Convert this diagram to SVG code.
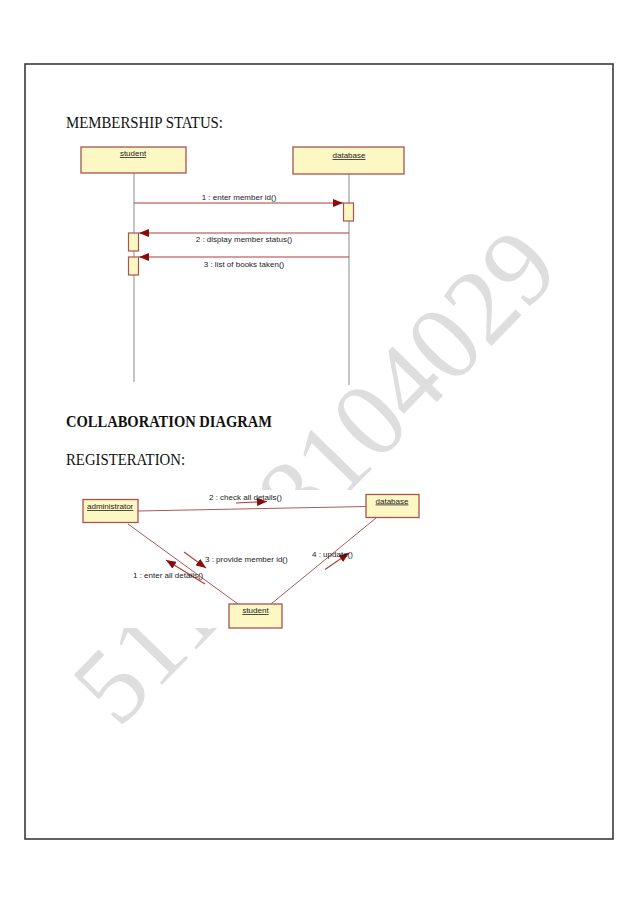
<svg xmlns="http://www.w3.org/2000/svg" width="638" height="903" viewBox="0 0 638 903">
  <style>
    .head { font-family: "Liberation Serif", "Times New Roman", serif; font-size: 16px; fill: #111; }
    .box { fill: #fdf7c4; stroke: #a5554f; stroke-width: 1.3; }
    .lbl { font-family: "Liberation Sans", Arial, sans-serif; font-size: 8px; fill: #222; text-decoration: underline; }
    .msg { font-family: "Liberation Sans", Arial, sans-serif; font-size: 8px; fill: #222; }
    .life { stroke: #8a8a8a; stroke-width: 1; fill: none; }
    .call { stroke: #b03a3a; stroke-width: 1.1; fill: none; }
    .link { stroke: #a85a5a; stroke-width: 1; fill: none; }
    .act { fill: #fdf7c4; stroke: #a5554f; stroke-width: 1.2; }
    .wm { font-family: "Liberation Serif", "Times New Roman", serif; font-size: 107px; fill: #dedede; }
  </style>
  <defs>
    <marker id="ah" markerWidth="10" markerHeight="8" refX="10" refY="4" orient="auto" markerUnits="userSpaceOnUse">
      <path d="M0,0 L10,4 L0,8 Z" fill="#8b0a0a"/>
    </marker>
  </defs>
  <rect width="638" height="903" fill="#ffffff"/>

  <!-- watermark -->
  <text class="wm" x="118" y="730" transform="rotate(-45.8 118 730)">511318104029</text>
  <!-- white background of collaboration picture -->
  <rect x="60" y="490" width="372" height="138" fill="#ffffff"/>

  <!-- page frame -->
  <rect x="25" y="64" width="588" height="775" fill="none" stroke="#3a3a3a" stroke-width="1.6"/>

  <text class="head" x="66" y="128" textLength="157" lengthAdjust="spacingAndGlyphs">MEMBERSHIP STATUS:</text>
  <text class="head" x="66" y="427" font-weight="bold" textLength="206" lengthAdjust="spacingAndGlyphs">COLLABORATION DIAGRAM</text>
  <text class="head" x="66" y="465" textLength="119" lengthAdjust="spacingAndGlyphs">REGISTERATION:</text>

  <!-- sequence diagram -->
  <g id="seq-connectors">
    <line class="life" x1="134" y1="173" x2="134" y2="382"/>
    <line class="life" x1="349" y1="174" x2="349" y2="385"/>
    <line class="call" x1="134" y1="203" x2="343" y2="203" marker-end="url(#ah)"/>
    <line class="call" x1="349" y1="233" x2="139" y2="233" marker-end="url(#ah)"/>
    <line class="call" x1="349" y1="257" x2="139" y2="257" marker-end="url(#ah)"/>
    <text class="msg" x="239" y="200" text-anchor="middle">1 : enter member id()</text>
    <text class="msg" x="244" y="242" text-anchor="middle">2 : display member status()</text>
    <text class="msg" x="244" y="267" text-anchor="middle">3 : list of books taken()</text>
  </g>
  <g id="seq-student">
    <rect class="box" x="81" y="147" width="105" height="26"/>
    <text class="lbl" x="133" y="156" text-anchor="middle">student</text>
    <rect class="act" x="128.5" y="233" width="10" height="18"/>
    <rect class="act" x="128.5" y="257" width="10" height="18"/>
  </g>
  <g id="seq-database">
    <rect class="box" x="293" y="147" width="111" height="27"/>
    <text class="lbl" x="349" y="158" text-anchor="middle">database</text>
    <rect class="act" x="343.5" y="203" width="10" height="18"/>
  </g>

  <!-- collaboration diagram -->
  <g id="collab-connectors">
    <line class="link" x1="138" y1="511" x2="366" y2="506.5"/>
    <line class="link" x1="128" y1="524" x2="238" y2="604"/>
    <line class="link" x1="376" y1="518" x2="271" y2="604"/>
    <line class="call" x1="236" y1="503" x2="267" y2="501.5" marker-end="url(#ah)"/>
    <line class="call" x1="184" y1="552" x2="206" y2="568" marker-end="url(#ah)"/>
    <line class="call" x1="205" y1="584" x2="166" y2="560" marker-end="url(#ah)"/>
    <line class="call" x1="325" y1="569.5" x2="349" y2="553" marker-end="url(#ah)"/>
    <text class="msg" x="209" y="500">2 : check all details()</text>
    <text class="msg" x="205" y="562">3 : provide member id()</text>
    <text class="msg" x="133" y="578">1 : enter all details()</text>
    <text class="msg" x="312" y="557">4 : update()</text>
  </g>
  <g id="collab-administrator">
    <rect class="box" x="83" y="499.5" width="55" height="23"/>
    <text class="lbl" x="87" y="509">administrator</text>
  </g>
  <g id="collab-database">
    <rect class="box" x="366" y="494.5" width="53" height="23"/>
    <text class="lbl" x="392" y="503.5" text-anchor="middle">database</text>
  </g>
  <g id="collab-student">
    <rect class="box" x="229" y="604" width="53" height="24"/>
    <text class="lbl" x="255.5" y="613" text-anchor="middle">student</text>
  </g>
</svg>
